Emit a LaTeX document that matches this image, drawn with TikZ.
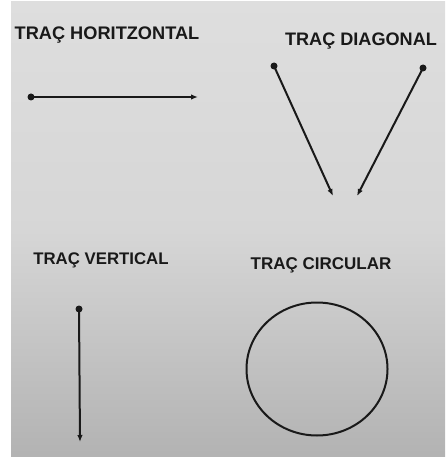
\documentclass[tikz,border=0pt]{standalone}
\usepackage{fontspec}
\setmainfont{Liberation Sans}
\usetikzlibrary{arrows.meta}
\begin{document}
\begin{tikzpicture}[x=1pt,y=-1pt,
  title/.style={font=\bfseries, text=black!90, inner sep=0pt, anchor=center},
  dot/.style={circle, fill=black!90, inner sep=0pt, minimum size=7pt},
  stroke/.style={draw=black!90, line width=2pt, -{Latex[length=7pt,width=5.5pt]}, shorten <=-2pt}]
\useasboundingbox (0,0) rectangle (445,457);
\fill[white] (0,0) rectangle (445,457);
\shade[top color=black!13, bottom color=black!30, middle color=black!16] (11,2) rectangle (445,457);
% titles
\node[title, font=\bfseries\fontsize{18.2}{20}\selectfont] (th) at (107,35) {TRAÇ HORITZONTAL};
\node[title, font=\bfseries\fontsize{18.1}{20}\selectfont] (td) at (361,41) {TRAÇ DIAGONAL};
\node[title, font=\bfseries\fontsize{16.8}{19}\selectfont] (tv) at (101,260) {TRAÇ VERTICAL};
\node[title, font=\bfseries\fontsize{17}{19}\selectfont] (tc) at (321,265) {TRAÇ CIRCULAR};
% horizontal
\node[dot] (h0) at (31,97) {};
\coordinate (h1) at (198,97);
\draw[stroke] (h0.center) -- (h1);
% diagonal
\node[dot] (d0) at (274,66) {};
\coordinate (d1) at (333,196);
\draw[stroke] (d0.center) -- (d1);
\node[dot] (e0) at (423,68) {};
\coordinate (e1) at (357,196);
\draw[stroke] (e0.center) -- (e1);
% vertical
\node[dot] (v0) at (79,309) {};
\coordinate (v1) at (80,442);
\draw[stroke] (v0.center) -- (v1);
% circle
\draw[black!90, line width=2pt] (317,369) ellipse [x radius=70.5, y radius=66.5];
\end{tikzpicture}
\end{document}
